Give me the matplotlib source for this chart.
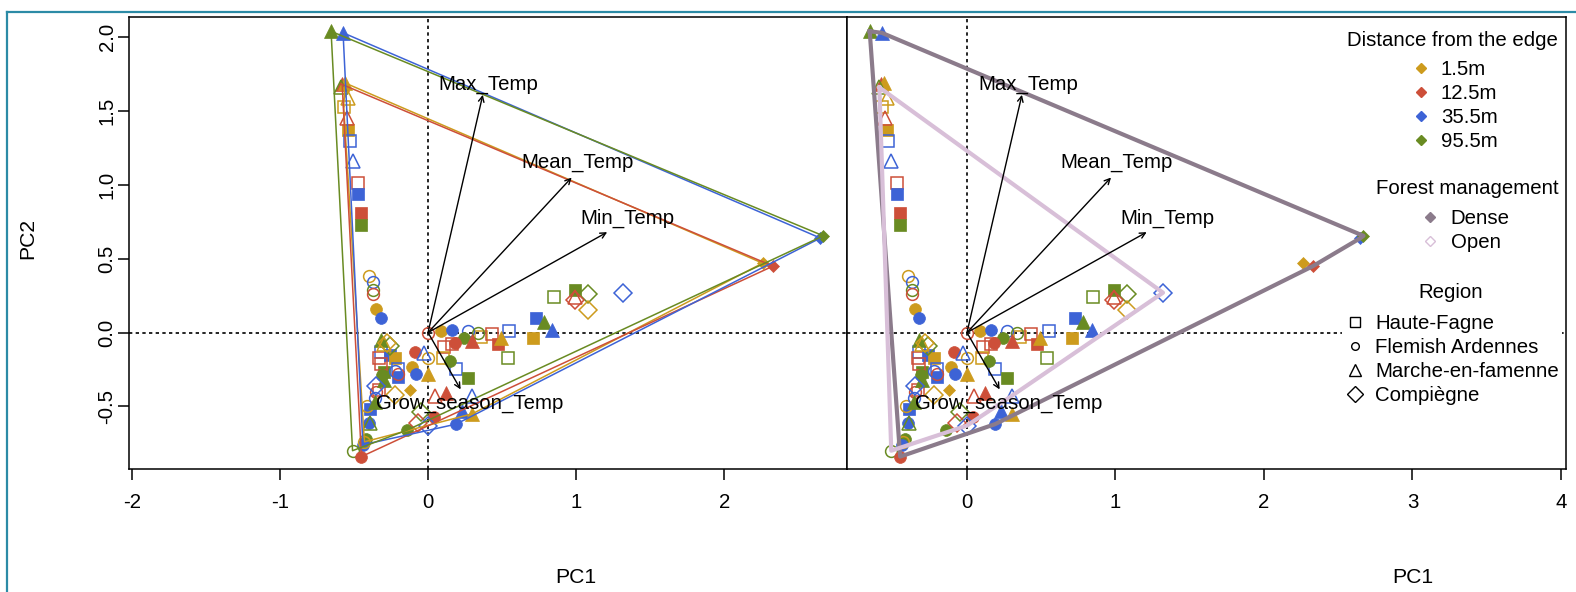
import matplotlib.pyplot as plt
from matplotlib.lines import Line2D
import numpy as np

plt.rcParams['font.family'] = ['Liberation Sans', 'DejaVu Sans']
plt.rcParams['axes.unicode_minus'] = False

distances = ['1.5m', '12.5m', '35.5m', '95.5m']
dist_colors = ['#CD9B1D', '#CD4F39', '#3D63D6', '#698B22']
regions = ['Haute-Fagne', 'Flemish Ardennes', 'Marche-en-famenne', 'Compiègne']
management = ['Dense', 'Open']
mgmt_colors = ['#8B7B8B', '#D8BFD8']

# site scores per region: (PC1, PC2, distance index, open forest 0/1)
haute_fagne = [
    (-0.57, 1.53, 0, 1), (-0.54, 1.37, 0, 0), (-0.53, 1.30, 2, 1), (-0.47, 1.01, 1, 1),
    (-0.47, 0.94, 2, 0), (-0.45, 0.81, 1, 0), (-0.45, 0.73, 3, 0),
    (0.11, -0.10, 1, 1), (0.16, -0.08, 1, 1), (0.10, -0.17, 0, 1), (0.19, -0.25, 2, 1),
    (0.27, -0.31, 3, 0), (0.36, -0.03, 0, 1), (0.43, -0.01, 1, 1), (0.47, -0.08, 1, 0),
    (0.55, 0.01, 2, 1), (0.54, -0.17, 3, 1), (0.73, 0.10, 2, 0), (0.71, -0.04, 0, 0),
    (0.85, 0.24, 3, 1), (0.99, 0.29, 3, 0),
    (-0.32, -0.13, 2, 1), (-0.33, -0.17, 1, 1), (-0.26, -0.15, 2, 0), (-0.22, -0.17, 0, 0),
    (-0.30, -0.27, 3, 0), (-0.20, -0.25, 2, 1), (-0.20, -0.30, 2, 0), (-0.33, -0.39, 1, 1),
    (-0.39, -0.52, 2, 0), (-0.32, -0.21, 1, 1),
]
flemish_ardennes = [
    (-0.40, 0.385, 0, 1), (-0.37, 0.34, 2, 1), (-0.37, 0.29, 3, 1), (-0.37, 0.26, 1, 1),
    (-0.35, 0.16, 0, 0), (-0.32, 0.10, 2, 0),
    (0.00, 0.00, 1, 1), (0.09, 0.01, 0, 0), (0.16, 0.02, 2, 0), (0.27, 0.01, 2, 1),
    (0.34, 0.00, 3, 1), (0.24, -0.04, 3, 0), (0.18, -0.07, 1, 0), (0.15, -0.19, 3, 0),
    (-0.09, -0.13, 1, 0), (0.00, -0.17, 0, 1), (-0.11, -0.23, 0, 0), (-0.08, -0.28, 2, 0),
    (-0.20, -0.28, 1, 1), (-0.22, -0.26, 2, 1), (-0.35, -0.40, 1, 1), (-0.41, -0.50, 0, 1),
    (-0.40, -0.61, 2, 0), (-0.42, -0.72, 3, 0), (-0.44, -0.76, 2, 0), (-0.51, -0.80, 3, 1),
    (-0.45, -0.84, 1, 0), (0.04, -0.57, 1, 0), (0.19, -0.62, 2, 0), (-0.14, -0.66, 3, 0),
    (-0.36, -0.44, 2, 1), (-0.31, -0.29, 3, 0), (-0.43, -0.74, 0, 1),
]
marche_en_famenne = [
    (-0.655, 2.04, 3, 0), (-0.574, 2.03, 2, 0), (-0.58, 1.68, 1, 0), (-0.56, 1.69, 0, 0),
    (-0.59, 1.66, 3, 1), (-0.54, 1.59, 0, 1), (-0.55, 1.45, 1, 1), (-0.51, 1.16, 2, 1),
    (0.78, 0.07, 3, 0), (0.84, 0.02, 2, 0), (0.49, -0.04, 0, 0), (0.30, -0.06, 1, 0),
    (0.99, 0.24, 1, 1), (0.05, -0.43, 1, 1), (0.12, -0.41, 1, 0), (0.30, -0.43, 2, 1),
    (0.23, -0.53, 2, 0), (0.30, -0.55, 0, 0), (0.00, -0.28, 0, 0), (-0.03, -0.14, 2, 1),
    (-0.32, -0.05, 3, 0), (-0.30, -0.32, 3, 0), (-0.36, -0.47, 3, 0), (-0.39, -0.61, 3, 1),
    (-0.30, -0.08, 0, 1),
]
compiegne = [
    (2.26, 0.47, 0, 0), (2.33, 0.45, 1, 0), (2.65, 0.64, 2, 0), (2.67, 0.655, 3, 0),
    (1.32, 0.27, 2, 1), (1.08, 0.26, 3, 1), (0.99, 0.22, 1, 1), (1.08, 0.15, 0, 1),
    (-0.12, -0.39, 0, 0), (-0.22, -0.42, 0, 1), (-0.05, -0.54, 3, 1), (-0.07, -0.61, 1, 1),
    (0.00, -0.63, 2, 1), (-0.26, -0.09, 3, 1), (-0.28, -0.07, 0, 1), (-0.35, -0.36, 2, 1),
]
region_points = [haute_fagne, flemish_ardennes, marche_en_famenne, compiegne]

# variable loadings (arrows) and label positions
var_names = ['Max_Temp', 'Mean_Temp', 'Min_Temp', 'Grow_season_Temp']
load_pc1 = [0.37, 0.97, 1.21, 0.22]
load_pc2 = [1.61, 1.05, 0.68, -0.385]
lab_pc1 = [0.41, 1.01, 1.35, 0.28]
lab_pc2 = [1.68, 1.15, 0.77, -0.48]

# marker style per region: (marker, filled size, open size)
region_style = [('s', 8, 8.5), ('o', 8.5, 8.5), ('^', 9.5, 9.5), ('D', 6.5, 9.5)]


def hull(pts):
    pts = sorted(set(pts))
    if len(pts) < 3:
        return pts

    def cross(o, a, b):
        return (a[0] - o[0]) * (b[1] - o[1]) - (a[1] - o[1]) * (b[0] - o[0])
    lower, upper = [], []
    for p in pts:
        while len(lower) >= 2 and cross(lower[-2], lower[-1], p) <= 0:
            lower.pop()
        lower.append(p)
    for p in reversed(pts):
        while len(upper) >= 2 and cross(upper[-2], upper[-1], p) <= 0:
            upper.pop()
        upper.append(p)
    h = lower[:-1] + upper[:-1]
    return h + [h[0]]


W, H = 1576, 592
fig = plt.figure(figsize=(W / 100, H / 100), dpi=100)


def px_rect(x0, y0, x1, y1):
    return [x0 / W, 1 - y1 / H, (x1 - x0) / W, (y1 - y0) / H]


ax1 = fig.add_axes(px_rect(129, 17, 847, 469))
ax2 = fig.add_axes(px_rect(847, 17, 1566, 469))

FS = 14.7
for ax in (ax1, ax2):
    ax.axhline(0, color='black', lw=1.2, ls=(0, (2, 2)), zorder=1)
    ax.axvline(0, color='black', lw=1.2, ls=(0, (2, 2)), zorder=1)
    for r, pts in enumerate(region_points):
        m, s_fill, s_open = region_style[r]
        for x, y, d, op in pts:
            c = dist_colors[d]
            if op:
                ax.plot(x, y, ls='', marker=m, ms=s_open, mfc='none', mec=c, mew=1.1, zorder=3)
            else:
                ax.plot(x, y, ls='', marker=m, ms=s_fill, mfc=c, mec=c, mew=0.5, zorder=3)
    for i in range(len(var_names)):
        ax.annotate('', xy=(load_pc1[i], load_pc2[i]), xytext=(0, 0),
                    arrowprops=dict(arrowstyle='->', color='black', lw=1.0,
                                    mutation_scale=10, shrinkA=0, shrinkB=0), zorder=6)
        ax.text(lab_pc1[i], lab_pc2[i], var_names[i], fontsize=FS, ha='center', va='center', zorder=7)
    ax.set_ylim(-0.924, 2.137)
    for sp in ax.spines.values():
        sp.set_linewidth(1.1)
    ax.tick_params(length=8, width=1.1, labelsize=FS)
    ax.text(1 if ax is ax1 else 3, -0.24, 'PC1', transform=ax.get_xaxis_transform(),
            fontsize=FS + 0.5, ha='center', va='center')

all_pts = [p for pts in region_points for p in pts]

# left: hulls by distance from the edge
for d, c in enumerate(dist_colors):
    h = hull([(p[0], p[1]) for p in all_pts if p[2] == d])
    ax1.plot([q[0] for q in h], [q[1] for q in h], color=c, lw=1.1, zorder=4)

# right: hulls by forest management
for k, c in enumerate(mgmt_colors):
    h = hull([(p[0], p[1]) for p in all_pts if p[3] == k])
    ax2.plot([q[0] for q in h], [q[1] for q in h], color=c, lw=3, zorder=4,
             solid_joinstyle='round')

ax1.set_xlim(-2.02, 2.83)
ax1.set_xticks([-2, -1, 0, 1, 2])
ax1.set_yticks([-0.5, 0, 0.5, 1.0, 1.5, 2.0])
ax1.set_yticklabels(['-0.5', '0.0', '0.5', '1.0', '1.5', '2.0'], rotation=90, va='center')
ax1.tick_params(axis='x', pad=9)
ax1.tick_params(axis='y', pad=1)

ax2.set_xlim(-0.808, 4.034)
ax2.set_xticks([0, 1, 2, 3, 4])
ax2.set_yticks([])
ax2.tick_params(axis='x', pad=9)

fig.text(28 / W, 1 - 238 / H, 'PC2', rotation=90, fontsize=FS + 0.5, ha='center', va='center')

# outer teal frame
teal = '#2C8BA6'
fig.add_artist(Line2D([6.5 / W, 6.5 / W], [0, 1 - 11.5 / H], color=teal, lw=1.6,
                      transform=fig.transFigure))
fig.add_artist(Line2D([6.5 / W, 1], [1 - 11.5 / H, 1 - 11.5 / H], color=teal, lw=1.6,
                      transform=fig.transFigure))


def add_legend(handles, labels, title, title_xc, title_y, xc, first_y):
    # white block behind title so the dotted line is hidden there too
    fig.text(title_xc / W, 1 - title_y / H, title, fontsize=FS, ha='center', va='center',
             zorder=11, bbox=dict(facecolor='white', edgecolor='none', pad=1))
    leg = fig.legend(handles, labels, loc='upper center',
                     bbox_to_anchor=(xc / W, 1 - (first_y - 13) / H), fontsize=FS,
                     handlelength=1.0, handletextpad=0.5, labelspacing=0.24, borderpad=0.15,
                     borderaxespad=0, frameon=True, facecolor='white', edgecolor='none',
                     framealpha=1)
    leg.set_zorder(10)
    return leg


h_dist = [Line2D([], [], ls='', marker='D', ms=5.5, color=c) for c in dist_colors]
add_legend(h_dist, distances, 'Distance from the edge', 1452, 41, 1454, 70)

h_mgmt = [Line2D([], [], ls='', marker='D', ms=5.5, color=mgmt_colors[0]),
          Line2D([], [], ls='', marker='D', ms=5.5, mfc='none', mec=mgmt_colors[1], mew=1)]
add_legend(h_mgmt, management, 'Forest management', 1467, 189, 1465, 219)

h_reg = [Line2D([], [], ls='', marker='s', ms=7, mfc='none', mec='black', mew=1),
         Line2D([], [], ls='', marker='o', ms=5.5, mfc='none', mec='black', mew=1),
         Line2D([], [], ls='', marker='^', ms=8, mfc='none', mec='black', mew=1),
         Line2D([], [], ls='', marker='D', ms=8, mfc='none', mec='black', mew=1)]
add_legend(h_reg, regions, 'Region', 1451, 293, 1452, 324)

fig.savefig('out.png', dpi=100)
